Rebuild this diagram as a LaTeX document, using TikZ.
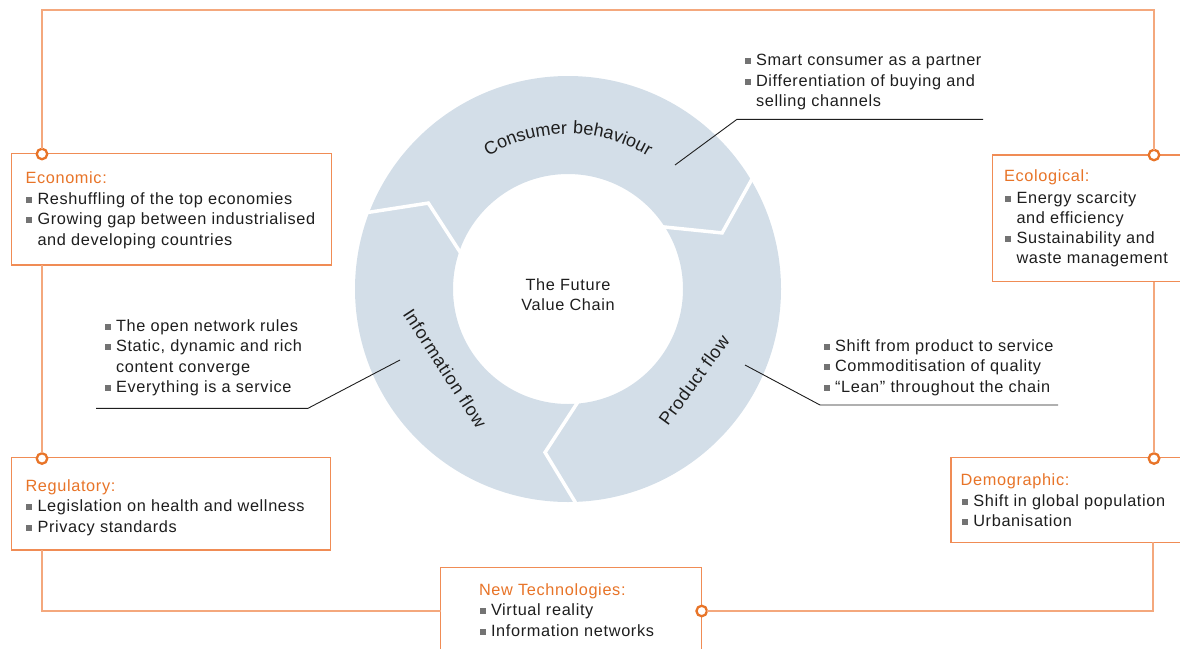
\documentclass[tikz,border=0pt]{standalone}
\usepackage{fontspec}
\setmainfont{Liberation Sans}[LetterSpace=4]
\usetikzlibrary{decorations.text,calc}
\definecolor{ringblue}{RGB}{211,222,232}
\definecolor{orng}{RGB}{232,116,40}
\definecolor{orngbox}{RGB}{240,140,85}
\definecolor{orngline}{RGB}{244,168,125}
\definecolor{txtgrey}{RGB}{30,30,30}
\definecolor{bulgrey}{RGB}{115,115,115}
\newcommand\bul{\llap{\textcolor{bulgrey}{\rule[1.5pt]{6pt}{6pt}}\hspace{5.5pt}}}
\tikzset{
  every node/.style={inner sep=0pt, outer sep=0pt, text=txtgrey, font=\fontsize{16.3}{20.5}\selectfont},
  tline/.style={anchor=base west},
  ttl/.style={anchor=base west, text=orng},
  boxnode/.style={draw=orngbox, line width=1.2pt, fill=white, anchor=north west},
  loopline/.style={draw=orngline, line width=1.5pt},
  dotnode/.style={circle, draw=orng, fill=white, line width=2.3pt, minimum size=10.5pt},
  callout/.style={draw=txtgrey, line width=0.9pt},
  chev/.style={draw=white, line width=3.5pt, line join=miter},
  ringlabel/.style={font=\fontsize{18}{18}\selectfont},
}
\begin{document}
\begin{tikzpicture}[x=1pt,y=-1pt]
\path[use as bounding box, clip] (0,0) rectangle (1180,648);

% ---------- ring ----------
\coordinate (C) at (568,289);
\fill[ringblue, even odd rule] (C) circle[radius=213pt] (C) circle[radius=115pt];
\coordinate (r1o) at ($(C)+(32:222pt)$);
\coordinate (r1v) at ($(C)+(20:164pt)$);
\coordinate (r1i) at ($(C)+(35.6:108pt)$);
\coordinate (r2o) at ($(C)+(160.2:222pt)$);
\coordinate (r2v) at ($(C)+(148.4:164pt)$);
\coordinate (r2i) at ($(C)+(163.7:108pt)$);
\coordinate (r3o) at ($(C)+(273.2:222pt)$);
\coordinate (r3v) at ($(C)+(262:165pt)$);
\coordinate (r3i) at ($(C)+(277.3:108pt)$);
\draw[chev] (r1o) -- (r1v) -- (r1i);
\draw[chev] (r2o) -- (r2v) -- (r2i);
\draw[chev] (r3o) -- (r3v) -- (r3i);

\path[decorate, decoration={text along path, text align=center,
  text={|\fontsize{18}{18}\selectfont\color{txtgrey}|Consumer behaviour}}]
  ($(C)+(128:155pt)$) arc[start angle=128, end angle=52, radius=155pt];
\node[ringlabel, rotate=-57] (info) at (445,368) {Information flow};
\node[ringlabel, rotate=54] (prod) at (694,380) {Product flow};
\node[anchor=base] (fvc1) at (568,290.5) {The Future};
\node[anchor=base] (fvc2) at (568,310.7) {Value Chain};

% ---------- callouts ----------
\coordinate (cb1) at (675,165); \coordinate (cb2) at (737,119.3); \coordinate (cb3) at (983,119.3);
\coordinate (if1) at (400,360); \coordinate (if2) at (308,408.3); \coordinate (if3) at (96,408.3);
\coordinate (pf1) at (745,365); \coordinate (pf2) at (820,405); \coordinate (pf3) at (1058,405);
\draw[callout] (cb1) -- (cb2) -- (cb3);
\draw[callout] (if1) -- (if2) -- (if3);
\draw[callout] (pf1) -- (pf2) -- (pf3);

\node[tline] (cbl1) at (756,65) {\bul Smart consumer as a partner};
\node[tline] (cbl2) at (756,86) {\bul Differentiation of buying and};
\node[tline] (cbl3) at (756,106) {selling channels};

\node[tline] (ifl1) at (116,331.7) {\bul The open network rules};
\node[tline] (ifl2) at (116,351.7) {\bul Static, dynamic and rich};
\node[tline] (ifl3) at (116,372.3) {content converge};
\node[tline] (ifl4) at (116,392.7) {\bul Everything is a service};

\node[tline] (pfl1) at (835,351) {\bul Shift from product to service};
\node[tline] (pfl2) at (835,371.5) {\bul Commoditisation of quality};
\node[tline] (pfl3) at (835,392) {\bul “Lean” throughout the chain};

% ---------- loop ----------
\coordinate (tl) at (42,10);
\coordinate (tr) at (1154,10);
\coordinate (bl) at (42,611);
\coordinate (br) at (1153,611);

\node[boxnode, minimum width=320pt, minimum height=111.7pt] (eco) at (11.7,153.3) {};
\node[boxnode, minimum width=210pt, minimum height=126.7pt] (ecl) at (992.3,155) {};
\node[boxnode, minimum width=319pt, minimum height=92.3pt] (reg) at (11.7,457.7) {};
\node[boxnode, minimum width=250pt, minimum height=84.7pt] (dem) at (951,457.7) {};
\node[boxnode, minimum width=261pt, minimum height=100pt] (ntc) at (440.7,567.7) {};

\node[dotnode] (deco) at (42,154) {};
\node[dotnode] (decl) at (1154,155) {};
\node[dotnode] (dreg) at (42,458.5) {};
\node[dotnode] (ddem) at (1154,458.5) {};
\node[dotnode] (dntc) at (701.7,611) {};

\draw[loopline] (deco) -- (tl) -- (tr) -- (decl);
\draw[loopline] (deco |- eco.south) -- (dreg);
\draw[loopline] (decl |- ecl.south) -- (ddem);
\draw[loopline] (dreg |- reg.south) -- (bl) -- (bl -| ntc.west);
\draw[loopline] (dntc) -- (br) -- (br |- dem.south);

% ---------- box texts ----------
\node[ttl] (ecot) at (25.5,183.5) {Economic:};
\node[tline] (eco1) at (37.5,204) {\bul Reshuffling of the top economies};
\node[tline] (eco2) at (37.5,224.5) {\bul Growing gap between industrialised};
\node[tline] (eco3) at (37.5,245) {and developing countries};

\node[ttl] (eclt) at (1004,181) {Ecological:};
\node[tline] (ecl1) at (1016.5,203) {\bul Energy scarcity};
\node[tline] (ecl2) at (1016.5,223.3) {and efficiency};
\node[tline] (ecl3) at (1016.5,243.5) {\bul Sustainability and};
\node[tline] (ecl4) at (1016.5,263.5) {waste management};

\node[ttl] (regt) at (25.5,491.5) {Regulatory:};
\node[tline] (reg1) at (37.5,511.7) {\bul Legislation on health and wellness};
\node[tline] (reg2) at (37.5,532.3) {\bul Privacy standards};

\node[ttl] (demt) at (960.7,485) {Demographic:};
\node[tline] (dem1) at (973.3,506) {\bul Shift in global population};
\node[tline] (dem2) at (973.3,526.7) {\bul Urbanisation};

\node[ttl] (ntct) at (479,595) {New Technologies:};
\node[tline] (ntc1) at (491,615.5) {\bul Virtual reality};
\node[tline] (ntc2) at (491,636.5) {\bul Information networks};
\end{tikzpicture}
\end{document}
